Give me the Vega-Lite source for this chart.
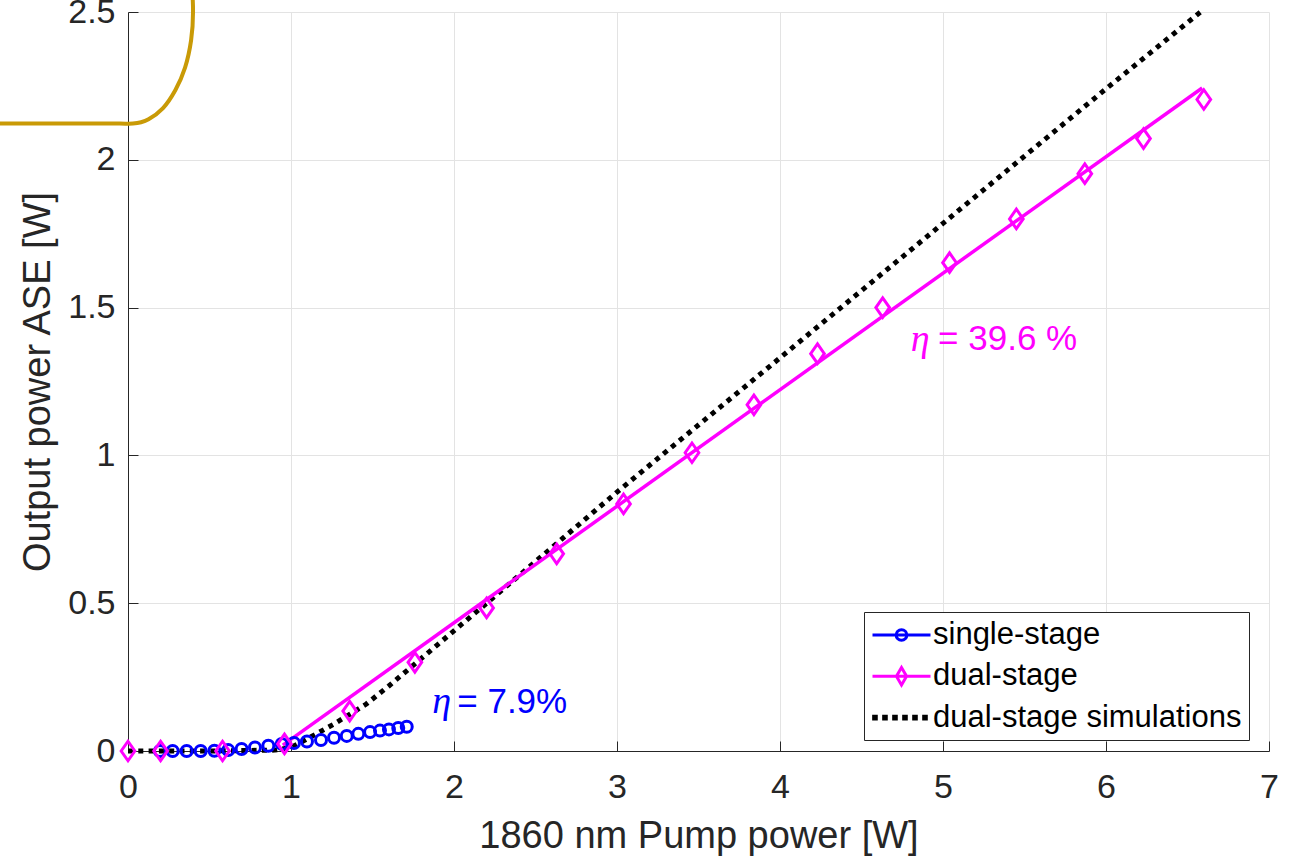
{
  "$schema": "https://vega.github.io/schema/vega-lite/v6.json",
  "width": 1141,
  "height": 739,
  "autosize": {"type": "none"},
  "padding": {"left": 128, "top": 12, "right": 25, "bottom": 107},
  "background": "white",
  "config": {
    "view": {"stroke": null},
    "font": "Liberation Sans",
    "axis": {
      "grid": true,
      "gridColor": "#e3e3e3",
      "gridWidth": 1,
      "domainColor": "#262626",
      "domainWidth": 1,
      "tickColor": "#262626",
      "tickSize": -10,
      "labelFlush": false,
      "labelFont": "Liberation Sans",
      "labelFontSize": 34,
      "labelColor": "#262626",
      "titleFont": "Liberation Sans",
      "titleFontSize": 38,
      "titleFontWeight": "normal",
      "titleColor": "#262626"
    }
  },
  "datasets": {
    "gold": [
      {"i": 0, "x": -0.785, "y": 2.1225},
      {"i": 1, "x": -0.4, "y": 2.1225},
      {"i": 2, "x": -0.05, "y": 2.1225},
      {"i": 3, "x": 0.03, "y": 2.1225},
      {"i": 4, "x": 0.08, "y": 2.127},
      {"i": 5, "x": 0.126, "y": 2.137},
      {"i": 6, "x": 0.215, "y": 2.175},
      {"i": 7, "x": 0.291, "y": 2.236},
      {"i": 8, "x": 0.35, "y": 2.312},
      {"i": 9, "x": 0.387, "y": 2.404},
      {"i": 10, "x": 0.399, "y": 2.502},
      {"i": 11, "x": 0.387, "y": 2.6},
      {"i": 12, "x": 0.35, "y": 2.691}
    ],
    "sim": [
      {"x": 0, "y": 0},
      {"x": 0.5, "y": 0},
      {"x": 0.9, "y": 0.003},
      {"x": 1.0, "y": 0.012},
      {"x": 1.08, "y": 0.035},
      {"x": 1.26, "y": 0.09},
      {"x": 1.46, "y": 0.158},
      {"x": 1.6, "y": 0.22},
      {"x": 1.9, "y": 0.36},
      {"x": 2.2, "y": 0.5},
      {"x": 3.0, "y": 0.876},
      {"x": 4.0, "y": 1.33},
      {"x": 5.0, "y": 1.785},
      {"x": 6.0, "y": 2.24},
      {"x": 6.58, "y": 2.5}
    ],
    "fits": [
      {"x": 0.95, "y": 0.02, "series": "dual-stage"},
      {"x": 6.59, "y": 2.243, "series": "dual-stage"}
    ],
    "single": [
      {"x": 0.196, "y": 0},
      {"x": 0.274, "y": 0},
      {"x": 0.36, "y": 0},
      {"x": 0.446, "y": 0},
      {"x": 0.53, "y": 0.001},
      {"x": 0.615, "y": 0.003},
      {"x": 0.697, "y": 0.007},
      {"x": 0.779, "y": 0.012},
      {"x": 0.861, "y": 0.018},
      {"x": 0.943, "y": 0.024},
      {"x": 1.018, "y": 0.027},
      {"x": 1.098, "y": 0.032},
      {"x": 1.184, "y": 0.037},
      {"x": 1.264, "y": 0.045},
      {"x": 1.342, "y": 0.051},
      {"x": 1.413, "y": 0.058},
      {"x": 1.485, "y": 0.064},
      {"x": 1.546, "y": 0.069},
      {"x": 1.601, "y": 0.073},
      {"x": 1.658, "y": 0.078},
      {"x": 1.71, "y": 0.082}
    ],
    "dual": [
      {"x": 0, "y": 0},
      {"x": 0.2, "y": 0},
      {"x": 0.58, "y": 0},
      {"x": 0.96, "y": 0.024},
      {"x": 1.36, "y": 0.135},
      {"x": 1.76, "y": 0.3},
      {"x": 2.2, "y": 0.484},
      {"x": 2.63, "y": 0.667},
      {"x": 3.04, "y": 0.836},
      {"x": 3.46, "y": 1.009},
      {"x": 3.84, "y": 1.171},
      {"x": 4.23, "y": 1.344},
      {"x": 4.63, "y": 1.5},
      {"x": 5.04, "y": 1.652},
      {"x": 5.45, "y": 1.8},
      {"x": 5.87, "y": 1.953},
      {"x": 6.23, "y": 2.072},
      {"x": 6.6, "y": 2.204}
    ],
    "eta": [
      {"x": 4.86, "y": 1.39, "t": "η", "series": "dual-stage"},
      {"x": 1.925, "y": 0.167, "t": "η", "series": "single-stage"}
    ],
    "notes": [
      {"x": 4.97, "y": 1.395, "t": "= 39.6 %", "series": "dual-stage"},
      {"x": 2.02, "y": 0.167, "t": "= 7.9%", "series": "single-stage"}
    ]
  },
  "encoding": {
    "x": {
      "field": "x",
      "type": "quantitative",
      "scale": {"domain": [0, 7], "nice": false, "zero": false},
      "axis": {
        "title": "1860 nm Pump power [W]",
        "values": [0, 1, 2, 3, 4, 5, 6, 7],
        "format": "d",
        "labelPadding": 29,
        "titlePadding": 13
      }
    },
    "y": {
      "field": "y",
      "type": "quantitative",
      "scale": {"domain": [0, 2.5], "nice": false, "zero": false},
      "axis": {
        "title": "Output power ASE [W]",
        "values": [0, 0.5, 1, 1.5, 2, 2.5],
        "format": "~g",
        "labelPadding": 23,
        "titlePadding": 10
      }
    }
  },
  "layer": [
    {
      "data": {"name": "gold"},
      "mark": {"type": "line", "clip": false, "color": "#c99a06", "strokeWidth": 4, "strokeCap": "round", "strokeJoin": "round", "interpolate": "catmull-rom"},
      "encoding": {"order": {"field": "i", "type": "quantitative"}}
    },
    {
      "data": {"name": "sim"},
      "mark": {"type": "line", "color": "#000000", "strokeWidth": 5, "strokeDash": [5, 5.3], "strokeCap": "butt"},
      "encoding": {}
    },
    {
      "data": {"name": "fits"},
      "mark": {"type": "line", "strokeWidth": 3.5},
      "encoding": {
        "color": {
          "field": "series",
          "type": "nominal",
          "scale": {
            "domain": ["single-stage", "dual-stage", "dual-stage simulations"],
            "range": ["#0000ff", "#ff00ff", "#000000"]
          },
          "legend": {
            "title": null,
            "orient": "none",
            "legendX": 736,
            "legendY": 600,
            "direction": "vertical",
            "fillColor": "white",
            "strokeColor": "#262626",
            "cornerRadius": 0,
            "padding": 7,
            "labelFont": "Liberation Sans",
            "labelFontSize": 31,
            "labelColor": "#000000",
            "labelLimit": 600,
            "labelOffset": 30,
            "rowPadding": 10.3,
            "symbolSize": 841,
            "symbolStrokeWidth": 3,
            "symbolType": "circle",
            "encode": {
              "symbols": {
                "update": {
                  "shape": {"signal": "datum.value === 'single-stage' ? 'M-1,0H3M0.63,0A0.37,0.37 0 1,1 1.37,0A0.37,0.37 0 1,1 0.63,0Z' : datum.value === 'dual-stage' ? 'M-1,0H3M1,-0.6L1.35,0L1,0.6L0.65,0Z' : 'M-0.92,-0.09h0.18v0.18h-0.18ZM-0.23,-0.09h0.18v0.18h-0.18ZM0.46,-0.09h0.18v0.18h-0.18ZM1.15,-0.09h0.18v0.18h-0.18ZM1.84,-0.09h0.18v0.18h-0.18ZM2.53,-0.09h0.18v0.18h-0.18Z'"},
                  "stroke": {"signal": "datum.value === 'single-stage' ? '#0000ff' : datum.value === 'dual-stage' ? '#ff00ff' : '#000000'"},
                  "fill": {"value": "transparent"},
                  "strokeWidth": {"value": 3},
                  "opacity": {"value": 1}
                }
              }
            }
          }
        }
      }
    },
    {
      "data": {"name": "single"},
      "mark": {"type": "point", "shape": "circle", "filled": false, "color": "#0000ff", "size": 121, "strokeWidth": 3, "opacity": 1}
    },
    {
      "data": {"name": "dual"},
      "mark": {"type": "point", "shape": "M0,-1L0.7,0L0,1L-0.7,0Z", "filled": false, "color": "#ff00ff", "size": 380, "strokeWidth": 3, "opacity": 1}
    },
    {
      "data": {"name": "eta"},
      "mark": {"type": "text", "font": "Liberation Serif", "fontStyle": "italic", "fontSize": 38, "align": "center", "baseline": "middle"},
      "encoding": {
        "text": {"field": "t"},
        "color": {"condition": {"test": "datum.series === 'dual-stage'", "value": "#ff00ff"}, "value": "#0000ff"}
      }
    },
    {
      "data": {"name": "notes"},
      "mark": {"type": "text", "font": "Liberation Sans", "fontSize": 35, "align": "left", "baseline": "middle"},
      "encoding": {
        "text": {"field": "t"},
        "color": {"condition": {"test": "datum.series === 'dual-stage'", "value": "#ff00ff"}, "value": "#0000ff"}
      }
    }
  ]
}
